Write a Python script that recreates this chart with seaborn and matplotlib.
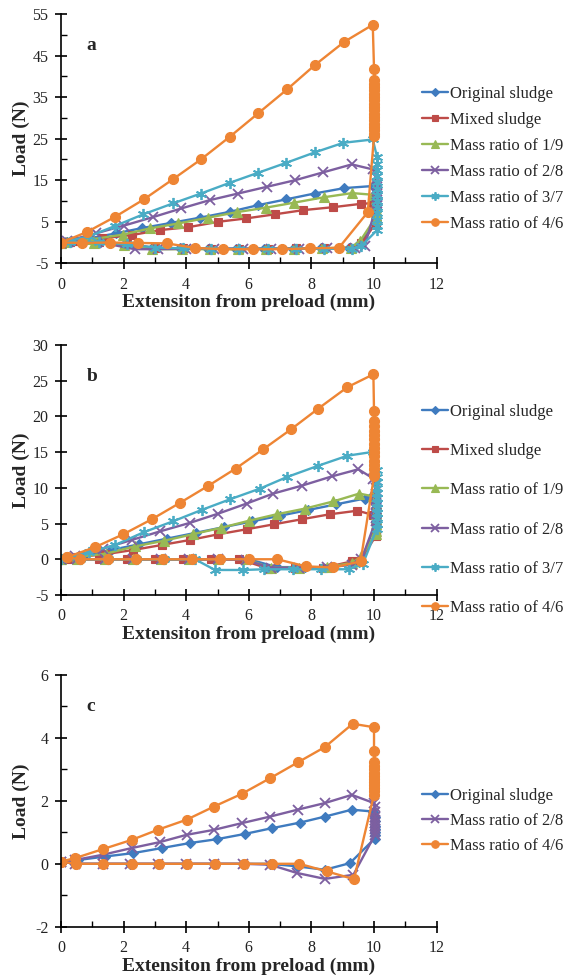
import matplotlib
matplotlib.use("Agg")
import matplotlib.pyplot as plt
import seaborn as sns
import pandas as pd
from matplotlib.ticker import MultipleLocator

# ---------------- series names / style ----------------
SERIES = ["Original sludge", "Mixed sludge", "Mass ratio of 1/9",
          "Mass ratio of 2/8", "Mass ratio of 3/7", "Mass ratio of 4/6"]
COLORS = ["#3F7BBF", "#BE4B48", "#98B954", "#7D5FA0", "#4AACC5", "#EE8534"]
MARKERS = ["D", "s", "^", "x", (6, 2, 0), "o"]
MSIZES = [5.5, 6.0, 7.0, 7.0, 8.0, 7.2]

# ---------------- panel a ----------------
A_ORIG_X = [0, 0.9, 1.75, 2.6, 3.5, 4.45, 5.4, 6.3, 7.2, 8.1, 9.05, 9.96,
            10.05, 10.05, 10.05, 10.05, 10.05, 10.05, 10.05,
            9.55, 9.2, 8.3, 7.4, 6.5, 5.6, 4.7, 3.8, 2.9, 2.0, 1.1, 0.2, 0]
A_ORIG_Y = [0, 1.0, 2.2, 3.5, 4.7, 6.0, 7.4, 9.0, 10.4, 11.8, 13.1, 13.6,
            12.0, 10.5, 9.0, 7.8, 6.6, 5.5, 4.6,
            0.0, -1.3, -1.4, -1.5, -1.5, -1.5, -1.5, -1.4, -1.2, -0.6, 0.0, 0.2, 0]
A_MIX_X = [0, 0.4, 1.3, 2.26, 3.16, 4.07, 5.03, 5.91, 6.84, 7.74, 8.68, 9.57, 9.98,
           10.05, 10.05, 10.05, 10.05, 10.05, 10.05,
           9.6, 9.3, 8.4, 7.5, 6.6, 5.7, 4.8, 3.9, 3.0, 2.1, 1.2, 0.3, 0]
A_MIX_Y = [0, 0.3, 1.0, 1.8, 3.0, 3.7, 5.0, 5.8, 6.8, 7.8, 8.5, 9.3, 9.5,
           8.5, 7.5, 6.6, 5.8, 5.1, 4.6,
           -0.2, -1.3, -1.4, -1.4, -1.5, -1.5, -1.5, -1.4, -1.3, -0.3, 0.1, 0.1, 0]
A_R19_X = [0, 1.0, 1.98, 2.84, 3.75, 4.71, 5.61, 6.55, 7.45, 8.4, 9.3, 9.96,
           10.05, 10.05, 10.05, 10.05, 10.05, 10.05, 10.05,
           9.55, 9.25, 8.35, 7.45, 6.55, 5.65, 4.75, 3.85, 2.9, 2.0, 1.05, 0.15, 0]
A_R19_Y = [0, 0.8, 1.9, 3.4, 4.6, 6.0, 7.3, 8.4, 9.6, 10.9, 11.9, 11.5,
           10.5, 9.5, 8.6, 7.8, 7.1, 6.5, 6.0,
           0.3, -1.2, -1.4, -1.5, -1.5, -1.6, -1.6, -1.6, -1.6, -0.6, 0.0, 0.1, 0]
A_R28_X = [0, 0.2, 1.11, 2.02, 2.93, 3.84, 4.75, 5.66, 6.57, 7.48, 8.38, 9.29, 9.96,
           10.08, 10.08, 10.08, 10.08, 10.08, 10.08, 10.08, 10.08,
           9.7, 9.4, 8.5, 7.6, 6.7, 5.8, 4.9, 4.0, 3.1, 2.36, 1.4, 0.5, 0]
A_R28_Y = [0, 0.4, 2.2, 4.1, 6.1, 8.2, 10.2, 11.8, 13.4, 15.0, 16.9, 18.8, 17.6,
           15.5, 14.0, 12.8, 11.8, 11.0, 10.3, 9.6, 9.0,
           -0.9, -1.3, -1.4, -1.5, -1.5, -1.5, -1.5, -1.5, -1.6, -1.6, -0.2, 0.1, 0]
A_R37_X = [0, 0.9, 1.73, 2.63, 3.57, 4.47, 5.4, 6.3, 7.2, 8.11, 9.02, 9.96,
           10.1, 10.1, 10.1, 10.1, 10.1, 10.1, 10.1, 10.1, 10.1, 10.1, 10.1, 10.1, 10.1,
           9.6, 9.3, 8.4, 7.5, 6.6, 5.7, 4.8, 3.9, 3.0, 2.1, 1.2, 0.3, 0]
A_R37_Y = [0, 1.5, 4.0, 6.8, 9.4, 11.8, 14.4, 16.8, 19.2, 21.7, 24.0, 24.8,
           20.5, 19.0, 17.5, 16.0, 14.5, 13.0, 11.5, 10.0, 8.5, 7.0, 5.5, 4.0, 3.0,
           -0.8, -1.5, -1.5, -1.5, -1.5, -1.5, -1.5, -1.4, -1.2, -0.4, 0.1, 0.1, 0]
A_R46_X = [0, 0.82, 1.73, 2.65, 3.57, 4.47, 5.4, 6.3, 7.23, 8.11, 9.05, 9.96,
           10.0, 10.0, 10.0, 10.0, 10.0, 10.0, 10.0, 10.0, 10.0, 10.0,
           10.0, 10.0, 10.0, 10.0, 10.0, 10.0, 10.0, 10.0, 10.0,
           9.8, 8.88, 7.96, 7.05, 6.12, 5.19, 4.28, 3.38, 2.47, 1.57, 0.66, 0]
A_R46_Y = [0, 2.5, 6.2, 10.4, 15.2, 20.0, 25.5, 31.1, 36.9, 42.7, 48.3, 52.4,
           41.8, 39.0, 38.2, 37.4, 36.6, 35.8, 35.0, 34.2, 33.4, 32.6,
           31.8, 31.0, 30.2, 29.4, 28.6, 27.8, 27.0, 26.2, 25.6,
           7.3, -1.25, -1.4, -1.6, -1.6, -1.6, -1.3, -0.2, -0.1, 0.0, -0.1, 0]

# ---------------- panel b ----------------
B_ORIG_X = [0, 0.7, 1.6, 2.5, 3.4, 4.3, 5.2, 6.1, 7.0, 7.9, 8.8, 9.7, 9.98,
            10.05, 10.05, 10.05, 10.05, 10.05, 10.05,
            9.6, 8.7, 7.8, 6.9, 6.0, 5.1, 4.2, 3.3, 2.4, 1.5, 0.6, 0]
B_ORIG_Y = [0, 0.5, 1.3, 2.1, 2.9, 3.7, 4.5, 5.3, 6.1, 6.9, 7.7, 8.5, 9.0,
            8.0, 7.2, 6.5, 5.9, 5.4, 5.0,
            -0.2, -1.1, -1.1, -1.1, 0.0, 0.0, 0.0, 0.0, 0.0, 0.0, 0.0, 0]
B_MIX_X = [0, 0.5, 1.4, 2.31, 3.22, 4.12, 5.03, 5.93, 6.81, 7.69, 8.59, 9.47, 9.98,
           10.05, 10.05, 10.05, 10.05, 10.05, 10.05,
           9.55, 9.29, 8.38, 7.47, 6.62, 5.7, 4.8, 3.9, 3.0, 2.1, 1.2, 0.3, 0]
B_MIX_Y = [0, 0.3, 0.7, 1.3, 2.0, 2.7, 3.5, 4.2, 4.9, 5.6, 6.3, 6.8, 6.2,
           5.6, 5.0, 4.5, 4.0, 3.6, 3.2,
           -0.2, -0.3, -1.2, -1.2, -1.3, 0.0, 0.0, 0.0, 0.0, 0.0, 0.0, 0.0, 0]
B_R19_X = [0, 0.5, 1.45, 2.36, 3.3, 4.21, 5.11, 6.01, 6.89, 7.8, 8.7, 9.53, 9.98,
           10.05, 10.05, 10.05, 10.05, 10.05, 10.05, 10.05, 10.05,
           9.6, 9.3, 8.5, 7.6, 6.7, 5.9, 5.0, 4.1, 3.2, 2.3, 1.4, 0.5, 0]
B_R19_Y = [0, 0.3, 0.8, 1.8, 2.6, 3.5, 4.4, 5.4, 6.3, 7.1, 8.1, 9.2, 8.8,
           7.8, 7.0, 6.3, 5.6, 5.0, 4.5, 4.0, 3.6,
           0.4, -0.5, -1.1, -1.2, -1.2, 0.0, 0.0, 0.0, 0.0, 0.0, 0.0, 0.0, 0]
B_R28_X = [0, 0.45, 1.35, 2.26, 3.16, 4.12, 5.03, 5.93, 6.78, 7.69, 8.65, 9.5, 9.98,
           10.05, 10.05, 10.05, 10.05, 10.05, 10.05, 10.05, 10.05,
           9.6, 9.3, 8.5, 7.6, 6.7, 5.9, 5.0, 4.1, 3.2, 2.3, 1.4, 0.5, 0]
B_R28_Y = [0, 0.5, 1.5, 2.7, 3.9, 5.1, 6.4, 7.8, 9.2, 10.3, 11.6, 12.6, 11.3,
           10.0, 9.2, 8.4, 7.7, 7.0, 6.4, 5.8, 5.3,
           0.0, -0.8, -1.1, -1.2, -1.2, -0.1, 0.0, 0.0, 0.0, 0.0, 0.0, 0.0, 0]
B_R37_X = [0, 0.9, 1.73, 2.65, 3.57, 4.49, 5.4, 6.36, 7.21, 8.22, 9.15, 9.98,
           10.08, 10.08, 10.08, 10.08, 10.08, 10.08, 10.08, 10.08, 10.08, 10.08, 10.08, 10.08,
           9.65, 9.2, 8.3, 7.4, 6.5, 5.82, 4.92, 4.28, 3.3, 2.4, 1.5, 0.6, 0]
B_R37_Y = [0, 1.0, 2.0, 3.8, 5.3, 6.9, 8.4, 9.9, 11.5, 13.1, 14.5, 15.05,
           12.5, 11.5, 10.8, 10.0, 9.3, 8.6, 7.9, 7.2, 6.5, 5.8, 5.0, 4.2,
           -0.6, -1.4, -1.4, -1.4, -1.4, -1.5, -1.5, 0.0, 0.0, 0.0, 0.0, 0.0, 0]
B_R46_X = [0.2, 1.09, 1.99, 2.9, 3.8, 4.71, 5.58, 6.46, 7.35, 8.22, 9.15, 9.98,
           10.0, 10.0, 10.0, 10.0, 10.0, 10.0, 10.0, 10.0, 10.0, 10.0,
           10.0, 10.0, 10.0, 10.0, 10.0,
           9.57, 8.7, 7.82, 6.91, 6.02, 5.08, 4.18, 3.27, 2.41, 1.5, 0.6, 0.2]
B_R46_Y = [0.3, 1.7, 3.5, 5.6, 7.9, 10.3, 12.7, 15.4, 18.2, 21.1, 24.1, 25.9,
           20.7, 19.3, 18.6, 18.0, 17.4, 16.8, 16.2, 15.6, 15.0, 14.4,
           13.8, 13.2, 12.6, 12.0, 11.6,
           -0.3, -1.15, -1.0, 0.0, 0.0, 0.0, 0.0, 0.0, 0.0, 0.0, 0.0, 0.3]

# ---------------- panel c ----------------
C_ORIG_X = [0, 0.55, 1.4, 2.31, 3.22, 4.12, 4.97, 5.88, 6.73, 7.64, 8.43, 9.29, 9.98,
            10.02, 10.02, 10.02, 10.02, 10.02, 10.02, 10.02,
            9.23, 8.43, 7.53, 6.68, 5.8, 4.9, 4.0, 3.1, 2.2, 1.35, 0.45, 0]
C_ORIG_Y = [0.07, 0.12, 0.23, 0.34, 0.5, 0.66, 0.78, 0.95, 1.13, 1.31, 1.5, 1.72, 1.66,
            1.5, 1.35, 1.2, 1.1, 1.0, 0.9, 0.8,
            0.02, -0.19, -0.08, 0.0, 0.0, 0.0, 0.0, 0.0, 0.0, 0.0, 0.0, 0.07]
C_R28_X = [0, 0.45, 1.35, 2.26, 3.16, 4.01, 4.89, 5.77, 6.68, 7.56, 8.43, 9.29, 10.0,
           10.02, 10.02, 10.02, 10.02, 10.02, 10.02, 10.02, 10.02, 10.02,
           9.34, 8.43, 7.53, 6.68, 5.8, 4.9, 4.0, 3.1, 2.2, 1.35, 0.45, 0]
C_R28_Y = [0.07, 0.12, 0.29, 0.5, 0.69, 0.92, 1.08, 1.29, 1.5, 1.72, 1.93, 2.19, 1.93,
           1.8, 1.65, 1.5, 1.4, 1.3, 1.2, 1.1, 1.0, 0.9,
           -0.35, -0.48, -0.29, -0.03, 0.0, 0.0, 0.0, 0.0, 0.0, 0.0, 0.0, 0.07]
C_R46_X = [0, 0.45, 1.35, 2.26, 3.09, 4.01, 4.89, 5.77, 6.68, 7.56, 8.43, 9.32, 10.0,
           10.0, 10.0, 10.0, 10.0, 10.0, 10.0, 10.0, 10.0, 10.0, 10.0, 10.0, 10.0,
           9.36, 8.49, 7.61, 6.73, 5.85, 4.93, 4.03, 3.13, 2.26, 1.35, 0.47, 0]
C_R46_Y = [0.07, 0.18, 0.47, 0.76, 1.08, 1.4, 1.82, 2.22, 2.72, 3.22, 3.71, 4.45, 4.34,
           3.57, 3.25, 3.1, 3.0, 2.9, 2.8, 2.7, 2.6, 2.5, 2.4, 2.3, 2.2,
           -0.49, -0.24, 0.0, 0.0, 0.0, 0.0, 0.0, 0.0, 0.0, 0.0, 0.0, 0.07]

# axis settings per panel
A_YLIM, A_YTICKS = (-5, 55), [-5, 5, 15, 25, 35, 45, 55]
B_YLIM, B_YTICKS = (-5, 30), [-5, 0, 5, 10, 15, 20, 25, 30]
C_YLIM, C_YTICKS = (-2, 6), [-2, 0, 2, 4, 6]
XTICKS = [0, 2, 4, 6, 8, 10, 12]

sns.set_style("ticks")
plt.rcParams["font.family"] = ["Liberation Serif", "DejaVu Serif"]
plt.rcParams["axes.unicode_minus"] = False

fig = plt.figure(figsize=(5.68, 9.76), dpi=100)

panels = [
    ("a", [0.1074, 0.7302, 0.6613, 0.2555], A_YLIM, A_YTICKS, 5,
     [(0, A_ORIG_X, A_ORIG_Y), (1, A_MIX_X, A_MIX_Y), (2, A_R19_X, A_R19_Y),
      (3, A_R28_X, A_R28_Y), (4, A_R37_X, A_R37_Y), (5, A_R46_X, A_R46_Y)],
     0.837, 0.60),
    ("b", [0.1074, 0.3904, 0.6613, 0.2561], B_YLIM, B_YTICKS, None,
     [(0, B_ORIG_X, B_ORIG_Y), (1, B_MIX_X, B_MIX_Y), (2, B_R19_X, B_R19_Y),
      (3, B_R28_X, B_R28_Y), (4, B_R37_X, B_R37_Y), (5, B_R46_X, B_R46_Y)],
     0.4775, 1.40),
    ("c", [0.1074, 0.0505, 0.6613, 0.2579], C_YLIM, C_YTICKS, 1,
     [(0, C_ORIG_X, C_ORIG_Y), (3, C_R28_X, C_R28_Y), (5, C_R46_X, C_R46_Y)],
     0.159, 0.53),
]

for letter, pos, ylim, yticks, yminor, series, leg_y, lspace in panels:
    ax = fig.add_axes(pos)
    for idx, xs, ys in series:
        df = pd.DataFrame({"x": xs, "y": ys})
        sns.lineplot(data=df, x="x", y="y", ax=ax, sort=False, estimator=None,
                     color=COLORS[idx], marker=MARKERS[idx], markersize=MSIZES[idx],
                     mec=COLORS[idx], mfc=COLORS[idx],
                     mew=1.3 if idx in (3, 4) else 0.8,
                     lw=1.7, label=SERIES[idx])
    ax.set_xlim(0, 12)
    ax.set_ylim(*ylim)
    ax.set_xticks(XTICKS)
    ax.set_yticks(yticks)
    ax.xaxis.set_minor_locator(MultipleLocator(1))
    if yminor:
        ax.yaxis.set_minor_locator(MultipleLocator(yminor))
    for s in ["top", "right"]:
        ax.spines[s].set_visible(False)
    for s in ["left", "bottom"]:
        ax.spines[s].set_color("black")
        ax.spines[s].set_linewidth(1.2)
    ax.tick_params(which="major", direction="inout", length=8, width=1.2,
                   color="black", labelsize=11.5, labelcolor="#222222")
    ax.tick_params(axis="x", which="major", pad=5.5)
    ax.tick_params(axis="y", which="major", pad=5)
    ax.tick_params(which="minor", direction="in", length=4, width=1.0, color="black")
    ax.set_xlabel("Extensiton from preload (mm)", fontsize=14, fontweight="bold")
    ax.set_ylabel("Load (N)", fontsize=14, fontweight="bold")
    ax.xaxis.set_label_coords(0.5, -0.122)
    ax.yaxis.set_label_coords(-0.082, 0.5)
    ax.text(0.068, 0.875, letter, transform=ax.transAxes, fontsize=14,
            fontweight="bold", ha="left", va="center")
    handles = ax.get_lines()
    labels = [h.get_label() for h in handles]
    leg = ax.legend(handles, labels, loc="center left",
                    bbox_to_anchor=(0.743, leg_y), bbox_transform=fig.transFigure,
                    frameon=False, fontsize=12, borderpad=0, borderaxespad=0,
                    handlelength=1.55, handletextpad=0.15, labelspacing=lspace,
                    markerscale=0.75)

fig.savefig("out.png", dpi=100)
